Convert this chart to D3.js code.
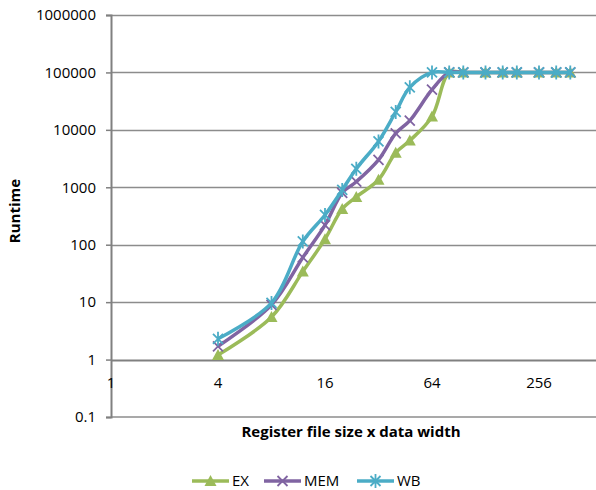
<!DOCTYPE html>
<html>
<head>
<meta charset="utf-8">
<script src="https://cdn.jsdelivr.net/npm/d3@7"></script>
<style>
  body { margin: 0; background: #fff; }
  text { font-family: "Open Sans", sans-serif; fill: #000; }
</style>
</head>
<body>
<div id="chart"></div>
<script>
// Data
const sizes = [4, 8, 12, 16, 20, 24, 32, 40, 48, 64, 80, 96, 128, 160, 192, 256, 320, 384];
const exRuntime  = [1.2, 5.5, 34, 125, 420, 680, 1350, 4000, 6500, 17000, 100000, 100000, 100000, 100000, 100000, 100000, 100000, 100000];
const memRuntime = [1.7, 9, 60, 220, 800, 1250, 3000, 8700, 14500, 50000, 100000, 100000, 100000, 100000, 100000, 100000, 100000, 100000];
const wbRuntime  = [2.3, 9.7, 114, 330, 900, 2100, 6300, 20500, 55000, 100000, 100000, 100000, 100000, 100000, 100000, 100000, 100000, 100000];
const seriesNames = ["EX", "MEM", "WB"];
const xTicks = [1, 4, 16, 64, 256];
const yTicks = [0.1, 1, 10, 100, 1000, 10000, 100000, 1000000];

const series = [
  { name: "EX", values: exRuntime, color: "#9BBB59", marker: "triangle" },
  { name: "MEM", values: memRuntime, color: "#8064A2", marker: "x" },
  { name: "WB", values: wbRuntime, color: "#4BACC6", marker: "star" }
];

const width = 596, height = 490;
const plotLeft = 111, plotTop = 15, plotBottom = 417;

const svg = d3.select("#chart").append("svg")
  .attr("width", width)
  .attr("height", height);

const x = d3.scaleLog().base(2).domain([1, 512]).range([plotLeft, plotLeft + 9 * 53.5]);
const y = d3.scaleLog().domain([0.1, 1000000]).range([plotBottom, plotTop]);

// Horizontal gridlines
svg.append("g")
  .selectAll("line")
  .data(yTicks.filter(v => v !== 0.1))
  .join("line")
  .attr("x1", plotLeft).attr("x2", width)
  .attr("y1", d => Math.round(y(d)) + 0.5).attr("y2", d => Math.round(y(d)) + 0.5)
  .attr("stroke", d => d === 1 ? "#808080" : "#8c8c8c")
  .attr("stroke-width", d => d === 1 ? 2 : 1.3);

// bottom border
svg.append("line")
  .attr("x1", plotLeft).attr("x2", width)
  .attr("y1", plotBottom).attr("y2", plotBottom)
  .attr("stroke", "#8c8c8c").attr("stroke-width", 1.5);

// Y axis
const yAxis = d3.axisLeft(y)
  .tickValues(yTicks)
  .tickFormat(d => d3.format("")(d))
  .tickSize(5)
  .tickPadding(10);

const yg = svg.append("g")
  .attr("transform", `translate(${plotLeft},0)`)
  .call(yAxis);
yg.select(".domain").attr("stroke", "#808080").attr("stroke-width", 2);
yg.selectAll(".tick line").attr("stroke", "#808080").attr("stroke-width", 1.5);
yg.selectAll(".tick text")
  .style("font-family", "Open Sans")
  .style("font-size", "15px")
  .attr("fill", "#000");

// X tick labels (axis crosses at y = 1)
svg.append("g")
  .selectAll("text")
  .data(xTicks)
  .join("text")
  .attr("x", d => x(d))
  .attr("y", y(1) + 28)
  .attr("text-anchor", "middle")
  .style("font-size", "15px")
  .text(d => d);

// Axis titles
svg.append("text")
  .attr("transform", `translate(20,211) rotate(-90)`)
  .attr("text-anchor", "middle")
  .style("font-size", "15px")
  .style("font-weight", "bold")
  .text("Runtime");

svg.append("text")
  .attr("x", 351)
  .attr("y", 437)
  .attr("text-anchor", "middle")
  .style("font-size", "15px")
  .style("font-weight", "bold")
  .text("Register file size x data width");

// Marker paths
function markerPath(type) {
  if (type === "triangle") {
    return "M0,-6L6,5L-6,5Z";
  } else if (type === "x") {
    return "M-5,-5L5,5M-5,5L5,-5";
  }
  return "M-5,-5L5,5M-5,5L5,-5M0,-7L0,7";
}

function drawMarker(g, type, color) {
  if (type === "triangle") {
    g.append("path").attr("d", markerPath(type)).attr("fill", color);
  } else {
    g.append("path").attr("d", markerPath(type))
      .attr("fill", "none").attr("stroke", color).attr("stroke-width", 1.8);
  }
}

const line = d3.line()
  .x(d => x(d[0]))
  .y(d => y(d[1]))
  .curve(d3.curveCatmullRom.alpha(0.5));

series.forEach(s => {
  const pts = sizes.map((v, i) => [v, s.values[i]]);
  const g = svg.append("g");
  g.append("path")
    .datum(pts)
    .attr("d", line)
    .attr("fill", "none")
    .attr("stroke", s.color)
    .attr("stroke-width", 3.5)
    .attr("stroke-linejoin", "round");
  pts.forEach(p => {
    const m = g.append("g").attr("transform", `translate(${x(p[0])},${y(p[1])})`);
    drawMarker(m, s.marker, s.color);
  });
});

// Legend
const legendX = [192, 264, 357];
const legend = svg.append("g");
series.forEach((s, i) => {
  const lg = legend.append("g").attr("transform", `translate(${legendX[i]},481)`);
  lg.append("line")
    .attr("x1", 0).attr("x2", 37)
    .attr("stroke", s.color).attr("stroke-width", 3.5);
  drawMarker(lg.append("g").attr("transform", "translate(18.5,0)"), s.marker, s.color);
  lg.append("text")
    .attr("x", 40)
    .attr("y", 5)
    .style("font-size", "15px")
    .text(seriesNames[i]);
});
</script>
</body>
</html>
